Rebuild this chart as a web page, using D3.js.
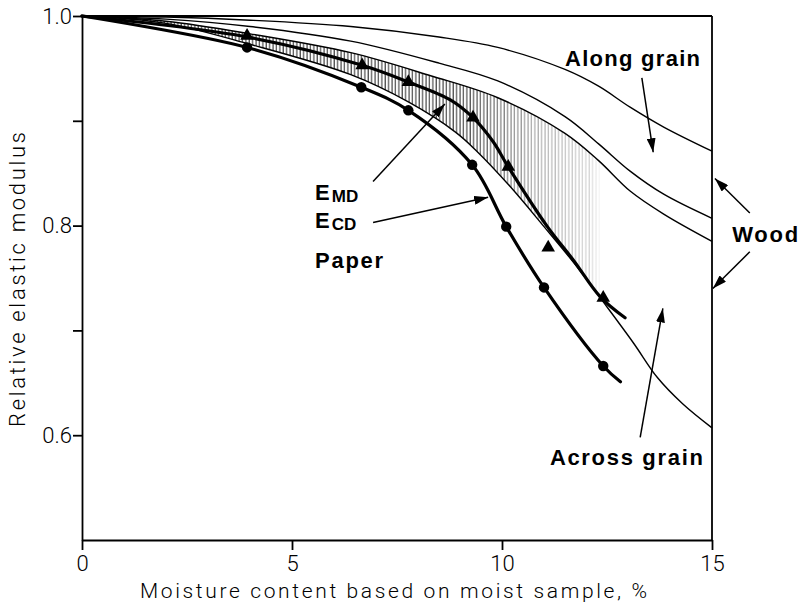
<!DOCTYPE html>
<html>
<head>
<meta charset="utf-8">
<script src="https://cdn.jsdelivr.net/npm/d3@7"></script>
<style>
  body { margin: 0; background: #fff; }
  svg { display: block; }
</style>
</head>
<body>
<div id="chart"></div>
<script>
// ticks
var xTicks = [0, 5, 10, 15];
var yTicks = [0.6, 0.7, 0.8, 0.9, 1.0];
var yLabelled = [0.6, 0.8, 1.0];

// wood, along grain (two curves)
var alongTopX = [0, 2, 4, 6.4, 8.5, 9.9, 11.5, 12.3, 13.05, 13.85, 15];
var alongTopY = [1.0, 0.999, 0.996, 0.990, 0.980, 0.970, 0.949, 0.933, 0.913, 0.894, 0.871];
var alongLowX = [0, 2, 4, 6.4, 8.5, 9.9, 11.5, 12.3, 13.05, 13.85, 15];
var alongLowY = [1.0, 0.997, 0.990, 0.976, 0.955, 0.938, 0.904, 0.878, 0.852, 0.830, 0.807];
// wood, third curve (upper edge of hatched band)
var woodMidX = [0, 2, 4, 6.4, 8.3, 9.9, 11.5, 12.3, 13.05, 13.85, 15];
var woodMidY = [1.0, 0.995, 0.983, 0.965, 0.943, 0.922, 0.888, 0.862, 0.833, 0.811, 0.785];
// wood, across grain
var acrossX = [0, 2, 4, 6.4, 7.77, 8.9, 9.4, 10.2, 11.0, 11.8, 12.34, 13.13, 13.7, 14.3, 15];
var acrossY = [1.0, 0.993, 0.973, 0.944, 0.918, 0.889, 0.871, 0.837, 0.799, 0.760, 0.731, 0.688, 0.655, 0.630, 0.607];

// paper E_MD (triangles)
var mdLineX = [0, 3.93, 6.67, 7.77, 8.77, 9.31, 9.79, 10.15, 11.08, 11.7, 12.34, 12.93];
var mdLineY = [1.0, 0.980, 0.953, 0.937, 0.920, 0.903, 0.880, 0.856, 0.799, 0.767, 0.732, 0.712];
var mdPointX = [3.93, 6.67, 7.77, 9.31, 10.15, 11.1, 12.41];
var mdPointY = [0.981, 0.953, 0.937, 0.903, 0.856, 0.779, 0.731];

// paper E_CD (circles)
var cdLineX = [0, 3.93, 6.65, 7.77, 9.29, 10.1, 11.0, 12.41, 12.82];
var cdLineY = [1.0, 0.970, 0.932, 0.910, 0.858, 0.799, 0.741, 0.666, 0.651];
var cdPointX = [3.93, 6.65, 7.77, 9.29, 10.1, 11.0, 12.41];
var cdPointY = [0.970, 0.932, 0.910, 0.858, 0.799, 0.741, 0.666];

// annotations, in data units
var arrowFrom = [[6.93, 0.842], [6.93, 0.803], [13.33, 0.941], [15.9, 0.812], [15.9, 0.775], [13.29, 0.598]];
var arrowTo   = [[8.64, 0.916], [9.67, 0.827], [13.60, 0.870], [15.07, 0.845], [15.02, 0.740], [13.83, 0.721]];
var labelText = ["Along grain", "Wood", "Across grain", "Paper"];
var labelPos  = [[11.5, 0.952], [15.48, 0.784], [11.14, 0.572], [5.55, 0.760]];
var labelLen  = [135, 66, 153, 68];

var width = 805, height = 611;
var margin = {left: 82, right: 93, top: 16, bottom: 71};

var svg = d3.select("#chart").append("svg")
    .attr("width", width)
    .attr("height", height);

svg.append("rect").attr("width", width).attr("height", height).attr("fill", "#fff");

var x = d3.scaleLinear().domain([0, 15]).range([margin.left, width - margin.right]);
var y = d3.scaleLinear().domain([0.5, 1.0]).range([height - margin.bottom, margin.top]);

function pts(xs, ys) { return xs.map(function(v, i) { return [v, ys[i]]; }); }

var smooth = d3.curveCatmullRom.alpha(0.5);

var line = d3.line()
    .x(function(d) { return x(d[0]); })
    .y(function(d) { return y(d[1]); })
    .curve(smooth);

var defs = svg.append("defs");

// vertical hatch
var pat = defs.append("pattern")
    .attr("id", "hatch")
    .attr("patternUnits", "userSpaceOnUse")
    .attr("width", 3.4).attr("height", 10);
pat.append("line")
    .attr("x1", 1).attr("x2", 1).attr("y1", 0).attr("y2", 10)
    .attr("stroke", "#000").attr("stroke-width", 0.9);

// hatch fades out towards the right
var grad = defs.append("linearGradient")
    .attr("id", "fadeGrad")
    .attr("gradientUnits", "userSpaceOnUse")
    .attr("x1", x(0)).attr("x2", x(15)).attr("y1", 0).attr("y2", 0);
[[x(0), 1], [x(9.2), 0.95], [x(10.8), 0.45], [x(12.1), 0.22], [x(12.4), 0]].forEach(function(s) {
  grad.append("stop")
    .attr("offset", (s[0] - x(0)) / (x(15) - x(0)))
    .attr("stop-color", "#fff")
    .attr("stop-opacity", s[1]);
});
defs.append("mask").attr("id", "fade")
  .append("rect")
    .attr("x", 0).attr("y", 0).attr("width", width).attr("height", height)
    .attr("fill", "url(#fadeGrad)");

// clip: area under the third wood curve
defs.append("clipPath").attr("id", "belowMid")
  .append("path")
    .attr("d", d3.area()
      .x(function(d) { return x(d[0]); })
      .y0(y(0.5))
      .y1(function(d) { return y(d[1]); })
      .curve(smooth)(pts(woodMidX, woodMidY)));

// hatched band = above across-grain curve and below the third curve
svg.append("path")
    .attr("d", d3.area()
      .x(function(d) { return x(d[0]); })
      .y0(y(1.0))
      .y1(function(d) { return y(d[1]); })
      .curve(smooth)(pts(acrossX, acrossY)))
    .attr("fill", "url(#hatch)")
    .attr("clip-path", "url(#belowMid)")
    .attr("mask", "url(#fade)");

// thin wood curves
[[alongTopX, alongTopY], [alongLowX, alongLowY], [woodMidX, woodMidY], [acrossX, acrossY]].forEach(function(c) {
  svg.append("path")
    .attr("d", line(pts(c[0], c[1])))
    .attr("fill", "none")
    .attr("stroke", "#000")
    .attr("stroke-width", 1.4);
});

// thick paper curves
[[mdLineX, mdLineY], [cdLineX, cdLineY]].forEach(function(c) {
  svg.append("path")
    .attr("d", line(pts(c[0], c[1])))
    .attr("fill", "none")
    .attr("stroke", "#000")
    .attr("stroke-width", 3.2)
    .attr("stroke-linecap", "round");
});

// markers
svg.selectAll(".cd").data(pts(cdPointX, cdPointY)).enter()
  .append("circle")
    .attr("cx", function(d) { return x(d[0]); })
    .attr("cy", function(d) { return y(d[1]); })
    .attr("r", 5.2)
    .attr("fill", "#000");

var tri = d3.symbol().type(d3.symbolTriangle).size(80);
svg.selectAll(".md").data(pts(mdPointX, mdPointY)).enter()
  .append("path")
    .attr("d", tri)
    .attr("transform", function(d) { return "translate(" + x(d[0]) + "," + y(d[1]) + ")"; })
    .attr("fill", "#000");

// axes
var xAxis = d3.axisBottom(x).tickValues(xTicks).tickSize(10).tickSizeOuter(0).tickPadding(5)
    .tickFormat(d3.format("d"));
var yAxis = d3.axisLeft(y).tickValues(yTicks).tickSize(9).tickSizeOuter(0).tickPadding(1)
    .tickFormat(function(d) { return yLabelled.indexOf(d) >= 0 ? d3.format(".1f")(d) : ""; });

var gx = svg.append("g").attr("transform", "translate(0," + y(0.5) + ")").call(xAxis);
var gy = svg.append("g").attr("transform", "translate(" + x(0) + ",0)").call(yAxis);
[gx, gy].forEach(function(g) {
  g.selectAll("path, line").attr("stroke", "#000").attr("stroke-width", 1.8);
  g.selectAll("text")
    .attr("fill", "#000")
    .style("font-family", "Roboto, 'Liberation Sans', sans-serif")
    .style("font-weight", 300)
    .style("font-size", "22px");
});

// frame top and right
svg.append("line")
    .attr("x1", x(0)).attr("x2", x(15)).attr("y1", y(1.0)).attr("y2", y(1.0))
    .attr("stroke", "#000").attr("stroke-width", 1.8);
svg.append("line")
    .attr("x1", x(15)).attr("x2", x(15)).attr("y1", y(1.0)).attr("y2", y(0.5))
    .attr("stroke", "#000").attr("stroke-width", 1.8);

// axis titles
svg.append("text")
    .attr("x", 140).attr("y", 598)
    .attr("textLength", 507).attr("lengthAdjust", "spacing")
    .style("font-family", "Roboto, 'Liberation Sans', sans-serif")
    .style("font-weight", 300)
    .style("font-size", "21px")
    .text("Moisture content based on moist sample, %");

svg.append("text")
    .attr("transform", "translate(25,427) rotate(-90)")
    .attr("textLength", 295).attr("lengthAdjust", "spacing")
    .style("font-family", "Roboto, 'Liberation Sans', sans-serif")
    .style("font-weight", 300)
    .style("font-size", "22px")
    .text("Relative elastic modulus");

// arrows
defs.append("marker")
    .attr("id", "head")
    .attr("viewBox", "0 0 14 9")
    .attr("refX", 14).attr("refY", 4.5)
    .attr("markerUnits", "userSpaceOnUse")
    .attr("markerWidth", 14).attr("markerHeight", 9)
    .attr("orient", "auto")
  .append("path")
    .attr("d", "M0,0L14,4.5L0,9Z")
    .attr("fill", "#000");

arrowFrom.forEach(function(f, i) {
  svg.append("line")
    .attr("x1", x(f[0])).attr("y1", y(f[1]))
    .attr("x2", x(arrowTo[i][0])).attr("y2", y(arrowTo[i][1]))
    .attr("stroke", "#000").attr("stroke-width", 1.5)
    .attr("marker-end", "url(#head)");
});

// labels
var bold = "'Liberation Sans', Arial, sans-serif";
labelText.forEach(function(t, i) {
  svg.append("text")
    .attr("x", x(labelPos[i][0])).attr("y", y(labelPos[i][1]))
    .attr("textLength", labelLen[i]).attr("lengthAdjust", "spacing")
    .style("font-family", bold)
    .style("font-weight", "bold")
    .style("font-size", "22px")
    .text(t);
});

[["MD", 0.824], ["CD", 0.798]].forEach(function(s) {
  var t = svg.append("text")
    .attr("x", x(5.55)).attr("y", y(s[1]))
    .style("font-family", bold)
    .style("font-weight", "bold")
    .style("font-size", "22px")
    .text("E");
  t.append("tspan")
    .attr("dx", 2).attr("dy", 2)
    .style("font-size", "17px")
    .text(s[0]);
});
</script>
</body>
</html>
